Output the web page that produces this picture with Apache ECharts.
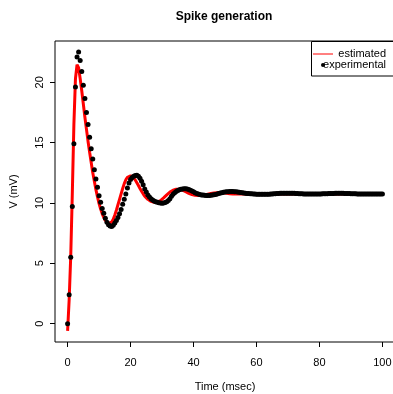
<!DOCTYPE html>
<html style="height: 100%">
<head>
<meta charset="utf-8">
<script src="https://cdn.jsdelivr.net/npm/echarts@6/dist/echarts.min.js"></script>
</head>
<body style="height: 100%; margin: 0; background: #fff">
<div id="container" style="width: 393px; height: 394px"></div>
<script type="text/javascript">
// time step of both series (msec), samples start at t = 0
var timeStep = 0.5;

// experimental membrane potential (mV), one value per 0.5 ms, 0..100 ms
var expV = [
    0.0, 2.4, 5.5, 9.7, 14.9, 19.6, 22.1, 22.5, 21.8, 20.9,
    19.75, 18.65, 17.5, 16.5, 15.45, 14.5, 13.65, 12.75, 11.98, 11.3,
    10.6, 10.05, 9.55, 9.14, 8.73, 8.4, 8.2, 8.1, 8.05, 8.15,
    8.35, 8.55, 8.8, 9.1, 9.45, 9.9, 10.3, 10.75, 11.25, 11.65,
    11.95, 12.12, 12.22, 12.28, 12.3, 12.22, 12.05, 11.8, 11.5, 11.15,
    10.9, 10.65, 10.5, 10.35, 10.25, 10.17, 10.1, 10.05, 10.02, 9.99,
    9.98, 9.99, 10.03, 10.1, 10.2, 10.35, 10.55, 10.72, 10.85, 10.95,
    11.03, 11.09, 11.13, 11.16, 11.18, 11.18, 11.16, 11.12, 11.06, 10.99,
    10.92, 10.85, 10.79, 10.74, 10.7, 10.67, 10.65, 10.63, 10.62, 10.62,
    10.62, 10.63, 10.65, 10.68, 10.71, 10.75, 10.78, 10.82, 10.85, 10.88,
    10.9, 10.92, 10.93, 10.94, 10.94, 10.94, 10.93, 10.92, 10.9, 10.88,
    10.86, 10.84, 10.82, 10.8, 10.79, 10.78, 10.77, 10.76, 10.75, 10.74,
    10.73, 10.73, 10.72, 10.72, 10.72, 10.72, 10.72, 10.73, 10.73, 10.74,
    10.75, 10.76, 10.77, 10.78, 10.79, 10.8, 10.8, 10.81, 10.81, 10.81,
    10.81, 10.81, 10.81, 10.8, 10.8, 10.79, 10.78, 10.77, 10.77, 10.76,
    10.75, 10.75, 10.74, 10.74, 10.74, 10.74, 10.74, 10.74, 10.74, 10.75,
    10.75, 10.75, 10.76, 10.76, 10.77, 10.77, 10.78, 10.78, 10.79, 10.79,
    10.8, 10.8, 10.8, 10.8, 10.8, 10.8, 10.79, 10.79, 10.78, 10.78,
    10.77, 10.77, 10.76, 10.76, 10.75, 10.75, 10.75, 10.74, 10.74, 10.74,
    10.74, 10.74, 10.74, 10.74, 10.74, 10.74, 10.75, 10.75, 10.75, 10.75,
    10.75
];

// estimated (model) potential (mV), same time grid
var estV = [
    -0.6, 2.0, 5.6, 10.8, 16.5, 20.3, 21.45, 21.2, 20.3, 19.3,
    18.2, 17.1, 16.1, 15.1, 14.2, 13.35, 12.5, 11.8, 11.1, 10.5,
    9.95, 9.5, 9.1, 8.8, 8.55, 8.4, 8.3, 8.3, 8.42, 8.65,
    9.0, 9.4, 9.85, 10.3, 10.75, 11.2, 11.6, 11.92, 12.13, 12.23,
    12.25, 12.2, 12.08, 11.9, 11.68, 11.45, 11.2, 10.97, 10.76, 10.57,
    10.42, 10.3, 10.2, 10.13, 10.08, 10.06, 10.05, 10.07, 10.12, 10.2,
    10.3, 10.42, 10.55, 10.67, 10.8, 10.9, 10.99, 11.06, 11.11, 11.14,
    11.15, 11.14, 11.11, 11.06, 11.0, 10.93, 10.86, 10.8, 10.74, 10.7,
    10.66, 10.63, 10.62, 10.61, 10.61, 10.62, 10.64, 10.66, 10.69, 10.72,
    10.75, 10.78, 10.8, 10.82, 10.84, 10.85, 10.86, 10.86, 10.85, 10.84,
    10.83, 10.81, 10.79, 10.77, 10.76, 10.75, 10.74, 10.74, 10.74, 10.74,
    10.75, 10.75, 10.75, 10.75, 10.75, 10.75, 10.75, 10.75, 10.75, 10.75,
    10.75, 10.75, 10.75, 10.75, 10.75, 10.75, 10.75, 10.75, 10.75, 10.75,
    10.75, 10.75, 10.75, 10.75, 10.75, 10.75, 10.75, 10.75, 10.75, 10.75,
    10.75, 10.75, 10.75, 10.75, 10.75, 10.75, 10.75, 10.75, 10.75, 10.75,
    10.75, 10.75, 10.75, 10.75, 10.75, 10.75, 10.75, 10.75, 10.75, 10.75,
    10.75, 10.75, 10.75, 10.75, 10.75, 10.75, 10.75, 10.75, 10.75, 10.75,
    10.75, 10.75, 10.75, 10.75, 10.75, 10.75, 10.75, 10.75, 10.75, 10.75,
    10.75, 10.75, 10.75, 10.75, 10.75, 10.75, 10.75, 10.75, 10.75, 10.75,
    10.75, 10.75, 10.75, 10.75, 10.75, 10.75, 10.75, 10.75, 10.75, 10.75,
    10.75
];

var xTicks = [0, 20, 40, 60, 80, 100];
var yTicks = [0, 5, 10, 15, 20];

function toPairs(vals) {
    return vals.map(function (v, i) { return [i * timeStep, v]; });
}

var font = 'Liberation Sans, Arial, sans-serif';
var myChart = echarts.init(document.getElementById('container'));

var option = {
    backgroundColor: '#fff',
    animation: false,
    grid: {
        left: 55, right: -2, top: 41, bottom: 52,
        outerBoundsMode: 'none',
        containLabel: false,
        show: true, borderColor: '#000', borderWidth: 1, backgroundColor: 'transparent'
    },
    xAxis: {
        type: 'value',
        min: -4, max: 104,
        name: 'Time (msec)',
        nameLocation: 'middle',
        nameGap: 39,
        nameTextStyle: { color: '#000', fontSize: 11, fontFamily: font },
        axisLine: { show: false, onZero: false },
        splitLine: { show: false },
        axisTick: { show: true, length: 5, customValues: xTicks, lineStyle: { color: '#000' } },
        axisLabel: { customValues: xTicks, margin: 15, color: '#000', fontSize: 11, fontFamily: font }
    },
    yAxis: {
        type: 'value',
        min: -1.52, max: 23.42,
        name: 'V (mV)',
        nameLocation: 'middle',
        nameRotate: 90,
        nameGap: 36,
        nameTextStyle: { color: '#000', fontSize: 11, fontFamily: font },
        axisLine: { show: false, onZero: false },
        splitLine: { show: false },
        axisTick: { show: true, length: 5, customValues: yTicks, lineStyle: { color: '#000' } },
        axisLabel: { customValues: yTicks, rotate: 90, margin: 10, color: '#000', fontSize: 11, fontFamily: font }
    },
    graphic: [
        {
            type: 'text', x: 224, y: 17,
            style: { text: 'Spike generation', fill: '#000', font: 'bold 12px ' + font, align: 'center', verticalAlign: 'middle' }
        },
        {
            type: 'rect', shape: { x: 311.5, y: 41.5, width: 90, height: 34.5 },
            style: { fill: '#fff', stroke: '#000', lineWidth: 1 }, z: 10
        },
        {
            type: 'line', shape: { x1: 313, y1: 54, x2: 333, y2: 54 },
            style: { stroke: '#ff0000', lineWidth: 1 }, z: 11
        },
        {
            type: 'text', x: 386, y: 54, z: 11,
            style: { text: 'estimated', fill: '#000', font: '11px ' + font, align: 'right', verticalAlign: 'middle' }
        },
        {
            type: 'circle', shape: { cx: 323, cy: 65, r: 2 },
            style: { fill: '#000' }, z: 11
        },
        {
            type: 'text', x: 386, y: 65, z: 11,
            style: { text: 'experimental', fill: '#000', font: '11px ' + font, align: 'right', verticalAlign: 'middle' }
        }
    ],
    series: [
        {
            name: 'estimated',
            type: 'line',
            data: toPairs(estV),
            showSymbol: false,
            lineStyle: { color: '#ff0000', width: 3 },
            z: 2
        },
        {
            name: 'experimental',
            type: 'scatter',
            data: toPairs(expV),
            symbol: 'circle',
            symbolSize: 5,
            itemStyle: { color: '#000', opacity: 1 },
            z: 3
        }
    ]
};

myChart.setOption(option);
</script>
</body>
</html>
